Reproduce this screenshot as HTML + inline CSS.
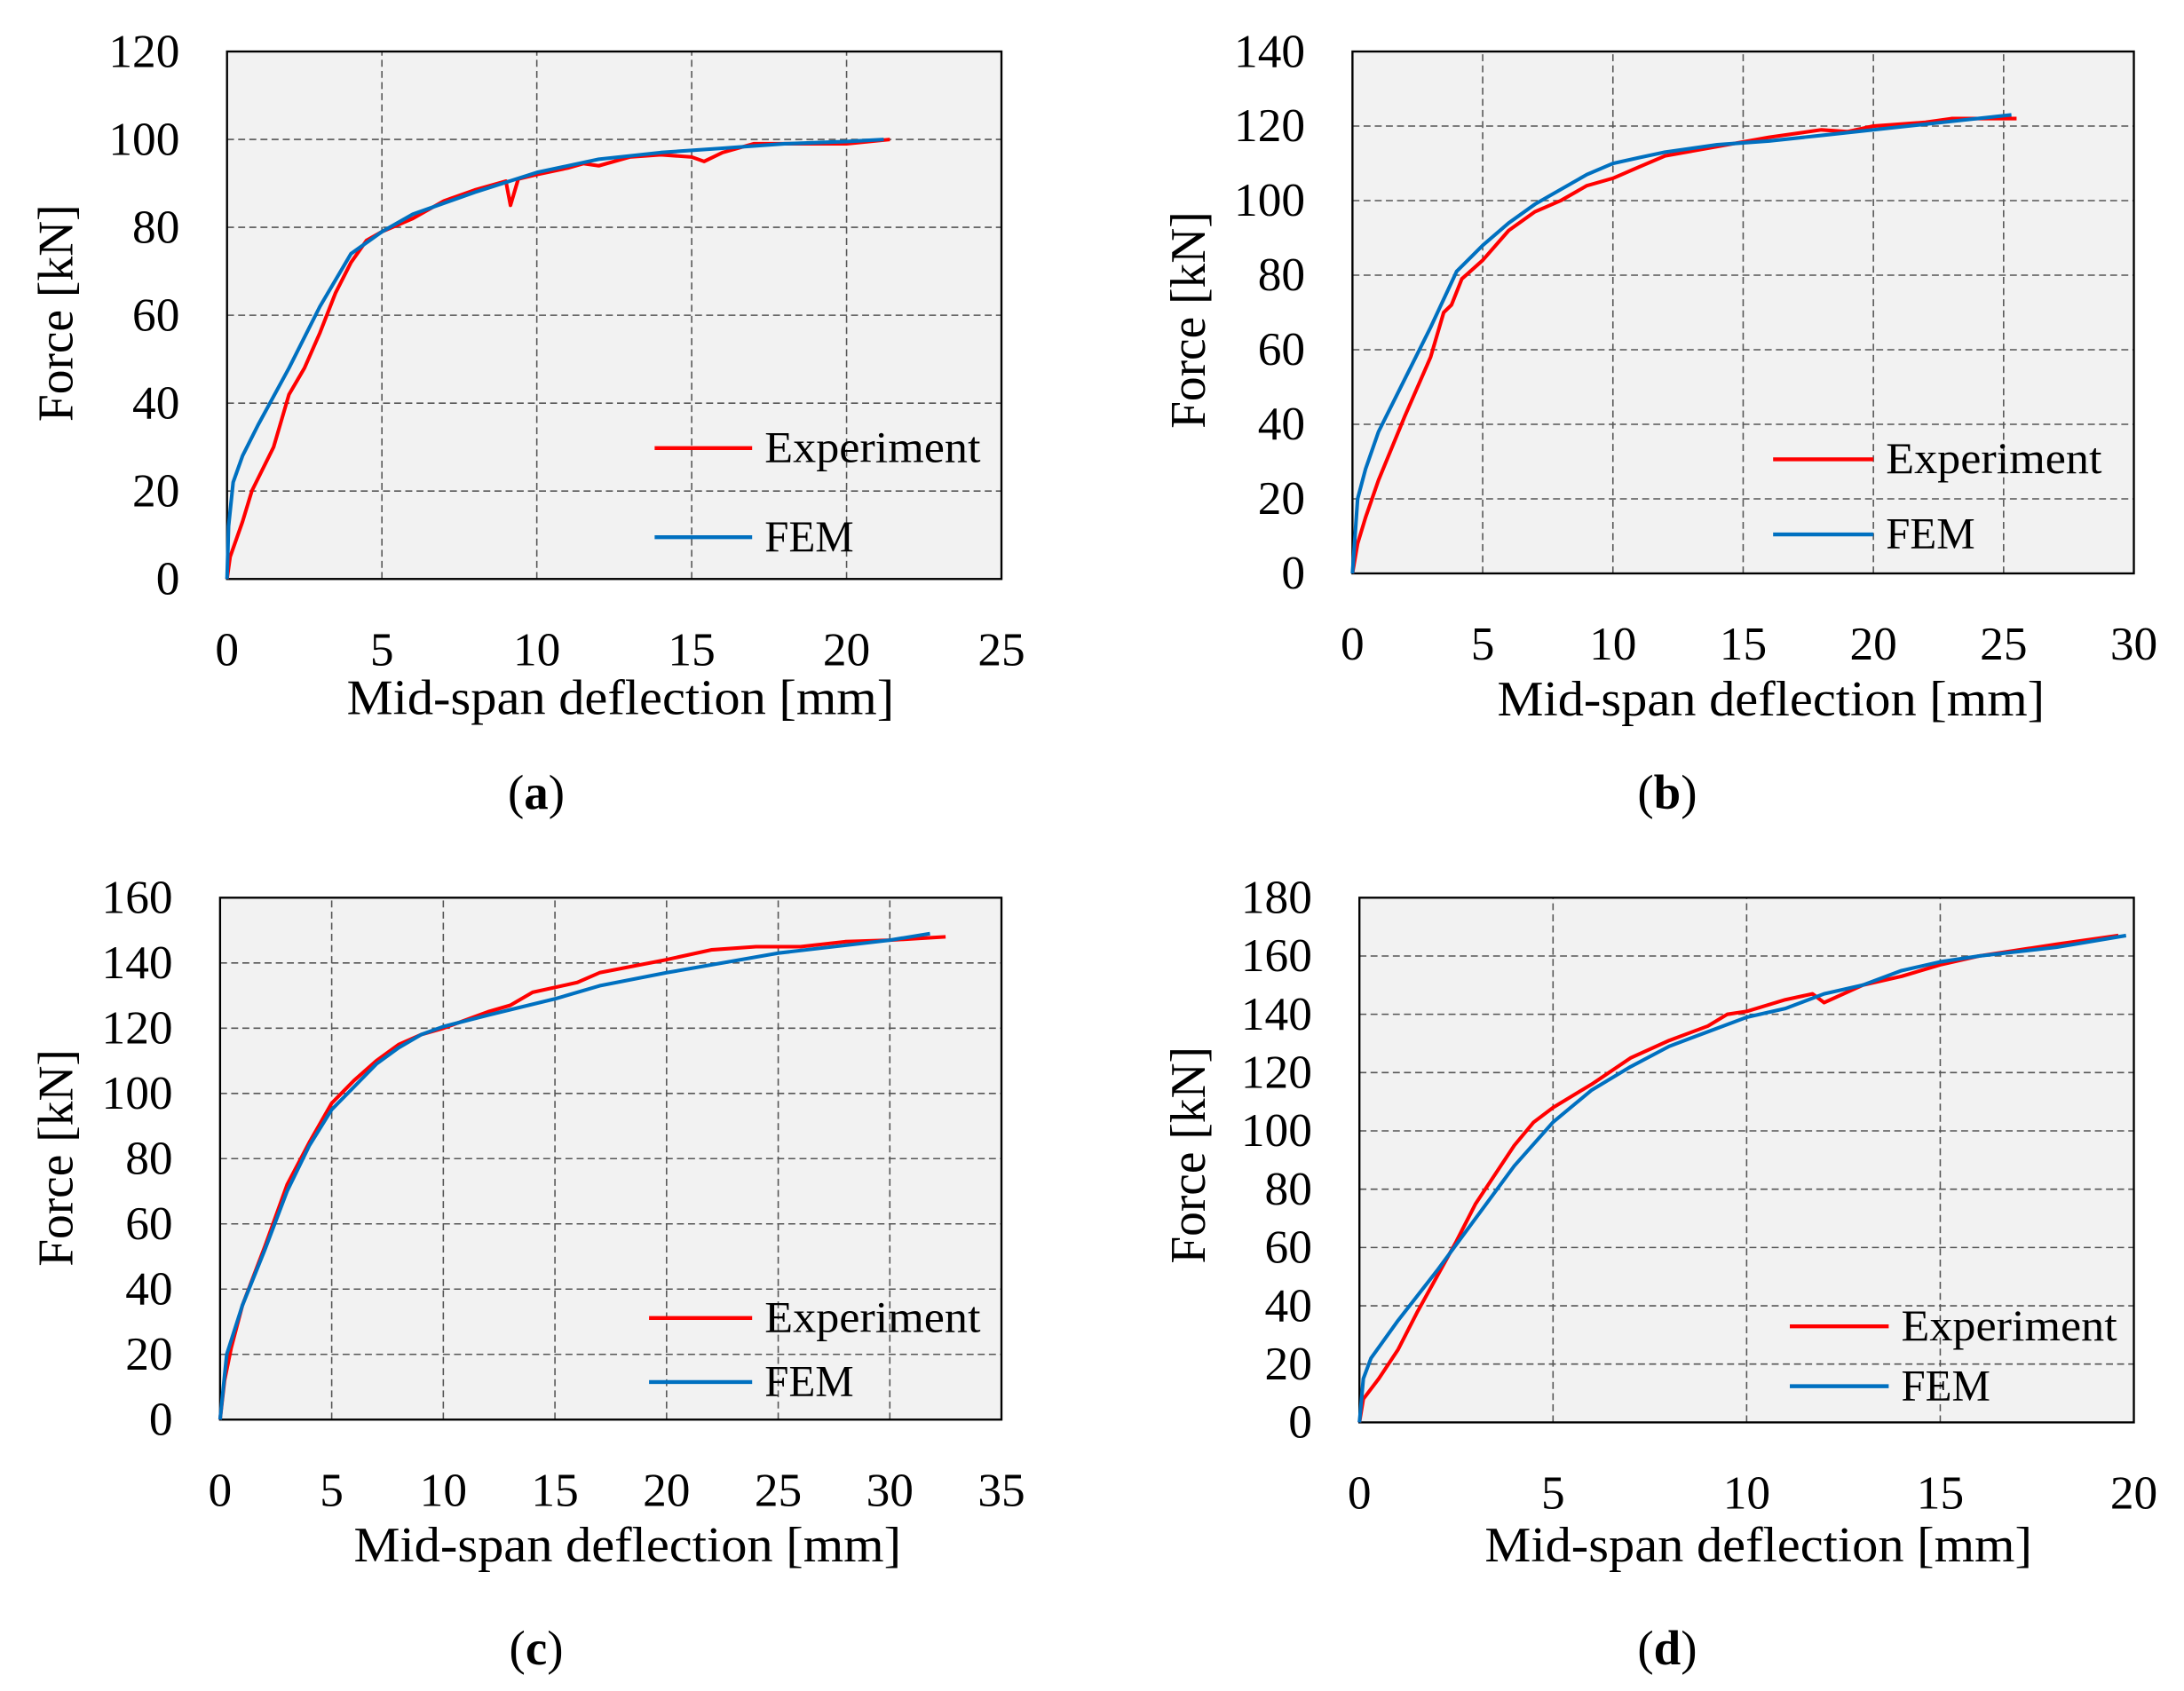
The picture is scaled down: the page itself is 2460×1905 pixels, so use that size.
<!DOCTYPE html>
<html><head><meta charset="utf-8">
<style>
html,body{margin:0;padding:0;background:#fff;}
svg{display:block;}
text{font-family:"Liberation Serif",serif;fill:#000;}
</style></head>
<body>
<svg id="fig" width="2460" height="1905" viewBox="0 0 1568 1215" preserveAspectRatio="none" xmlns="http://www.w3.org/2000/svg"></svg>
<script>
const aFemX=[0,0.05,0.2,0.5,1,2,3,4,5,6,8,10,12,14,16,18,20,21.2];
const aFemY=[0,12,22,28,35,48,62,74,79,83,88,92.5,95.5,97,98,99,99.5,100];
const aExpX=[0,0.1,0.5,0.8,1.5,2,2.5,3,3.5,4,4.5,5,6,7,8,9,9.15,9.4,10,11,11.5,12,13,14,15,15.4,16,17,18,19,20,21.4];
const aExpY=[0,5,13,20,30,42,48,56,65,72,77,79,82,86,88.5,90.5,85,91,92,93.5,94.5,94,96,96.5,96,95,97,99,99,99,99,100];
const bFemX=[0,0.2,0.5,1,2,3,4,5,6,7,8,9,10,11,12,14,16,18,20,22,25.3];
const bFemY=[0,20,28,38,52,66,81,88,94,99,103,107,110,111.5,113,115,116,117.5,119,120.5,123];
const bExpX=[0,0.2,0.5,1,2,3,3.5,3.8,4.2,5,6,7,8,9,10,11,12,14,16,18,19,20,22,23,25.5];
const bExpY=[0,8,15,25,42,58,70,72,79,84,92,97,100,104,106,109,112,114.5,117,119,118.5,120,121,122,122];
const cFemX=[0,0.3,1,2,3,4,5,6,7,8,9,10,12,15,17,20,25,30,31.8];
const cFemY=[0,20,35,52,70,84,95,102,109,114,118,120.5,124,129,133,137,143,147,149];
const cExpX=[0,0.2,0.5,1,2,3,4,5,6,7,8,9,10,12,13,14,16,17,20,22,24,26,28,30,32.5];
const cExpY=[0,12,22,35,53,72,85,97,104,110,115,118,120,125,127,131,134,137,141,144,145,145,146.5,147,148];
const dFemX=[0,0.1,0.3,1,2,3,4,5,6,7,8,9,10,11,12,13,14,15,16,18,19.8];
const dFemY=[0,15,22,35,52,70,88,103,114,122,129,134,139,142,147,150,155,158,160,163,167];
const dExpX=[0,0.1,0.5,1,1.5,2,2.5,3,3.5,4,4.5,5,6,7,8,9,9.5,10,11,11.7,12,13,14,15,16,18,19.6];
const dExpY=[0,8,15,25,38,50,62,75,85,95,103,108,116,125,131,136,140,141,145,147,144,150,153,157,160,164,167];
const aXTicks=[0,5,10,15,20,25], aYTicks=[0,20,40,60,80,100,120];
const bXTicks=[0,5,10,15,20,25,30], bYTicks=[0,20,40,60,80,100,120,140];
const cXTicks=[0,5,10,15,20,25,30,35], cYTicks=[0,20,40,60,80,100,120,140,160];
const dXTicks=[0,5,10,15,20], dYTicks=[0,20,40,60,80,100,120,140,160,180];

const NS="http://www.w3.org/2000/svg";
const svg=document.getElementById('fig');
function mk(tag,attrs,parent){const e=document.createElementNS(NS,tag);for(const k in attrs)e.setAttribute(k,attrs[k]);(parent||svg).appendChild(e);return e;}

const panels=[
 {id:'a',x0:163,x1:719,y0:416,y1:37,xmax:25,ymax:120,xt:aXTicks,yt:aYTicks,fx:aFemX,fy:aFemY,ex:aExpX,ey:aExpY,
  xly:478,xty:513,xtc:445,cap:[385,581],ytx:52,ytc:225,leg:[470,540,322,386]},
 {id:'b',x0:971,x1:1532,y0:412,y1:37,xmax:30,ymax:140,xt:bXTicks,yt:bYTicks,fx:bFemX,fy:bFemY,ex:bExpX,ey:bExpY,
  xly:474,xty:514,xtc:1271,cap:[1197,581],ytx:865,ytc:230,leg:[1273,1345,330,384]},
 {id:'c',x0:158,x1:719,y0:1020,y1:645,xmax:35,ymax:160,xt:cXTicks,yt:cYTicks,fx:cFemX,fy:cFemY,ex:cExpX,ey:cExpY,
  xly:1082,xty:1122,xtc:450,cap:[385,1196],ytx:52,ytc:832,leg:[466,540,947,993]},
 {id:'d',x0:976,x1:1532,y0:1022,y1:645,xmax:20,ymax:180,xt:dXTicks,yt:dYTicks,fx:dFemX,fy:dFemY,ex:dExpX,ey:dExpY,
  xly:1084,xty:1122,xtc:1262,cap:[1197,1196],ytx:865,ytc:830,leg:[1285,1356,953,996]}
];

panels.forEach(p=>{
 const g=mk('g',{});
 
 
 const sx=v=>p.x0+(p.x1-p.x0)*v/p.xmax;
 const sy=v=>p.y0+(p.y1-p.y0)*v/p.ymax;
 const bg=mk('rect',{x:p.x0,y:p.y1,width:p.x1-p.x0,height:p.y0-p.y1,fill:'#f2f2f2'},g);
 
 
 p.xt.forEach(t=>{
  if(t>0&&t<p.xmax){const l=mk('line',{x1:sx(t),x2:sx(t),y1:p.y0,y2:p.y1,stroke:'#555','stroke-width':1,'stroke-dasharray':'5,3'},g);
   
   }
  const tx=mk('text',{x:sx(t),y:p.xly,'text-anchor':'middle','font-size':34},g);tx.textContent=t;
  
  
 });
 p.yt.forEach(t=>{
  if(t>0&&t<p.ymax){const l=mk('line',{x1:p.x0,x2:p.x1,y1:sy(t),y2:sy(t),stroke:'#555','stroke-width':1,'stroke-dasharray':'5,3'},g);
   
   }
  const tx=mk('text',{x:p.x0-34,y:sy(t)+11,'text-anchor':'end','font-size':34},g);tx.textContent=t;
  
  
 });
 const fr=mk('rect',{x:p.x0,y:p.y1,width:p.x1-p.x0,height:p.y0-p.y1,fill:'none',stroke:'#000','stroke-width':1.5},g);
 
 
 const pts=(xs,ys)=>xs.map((x,i)=>sx(x).toFixed(1)+','+sy(ys[i]).toFixed(1)).join(' ');
 const ex=mk('polyline',{points:pts(p.ex,p.ey),fill:'none',stroke:'#ff0000','stroke-width':2.6,'stroke-linejoin':'round'},g);
 
 
 const fe=mk('polyline',{points:pts(p.fx,p.fy),fill:'none',stroke:'#0070c0','stroke-width':2.6,'stroke-linejoin':'round'},g);
 
 
 const l1=mk('line',{x1:p.leg[0],x2:p.leg[1],y1:p.leg[2],y2:p.leg[2],stroke:'#ff0000','stroke-width':2.8},g);
 
 
 const t1=mk('text',{x:p.leg[1]+9,y:p.leg[2]+10,'font-size':32,textLength:155,lengthAdjust:'spacingAndGlyphs'},g);t1.textContent='Experiment';
 
 
 const l2=mk('line',{x1:p.leg[0],x2:p.leg[1],y1:p.leg[3],y2:p.leg[3],stroke:'#0070c0','stroke-width':2.8},g);
 
 
 const t2=mk('text',{x:p.leg[1]+9,y:p.leg[3]+10,'font-size':32,textLength:64,lengthAdjust:'spacingAndGlyphs'},g);t2.textContent='FEM';
 
 
 const xt=mk('text',{x:p.xtc-196,y:p.xty,'font-size':36,textLength:393,lengthAdjust:'spacingAndGlyphs'},g);xt.textContent='Mid-span deflection [mm]';
 
 
 const yt=mk('text',{x:-78,y:0,'font-size':36,textLength:156,lengthAdjust:'spacingAndGlyphs',transform:`translate(${p.ytx},${p.ytc}) rotate(-90)`},g);yt.textContent='Force [kN]';
 
 
 const cp=mk('text',{x:p.cap[0],y:p.cap[1],'text-anchor':'middle','font-size':35},g);
 cp.innerHTML='(<tspan font-weight="bold">'+p.id+'</tspan>)';
 
 
});
</script>
</body></html>
